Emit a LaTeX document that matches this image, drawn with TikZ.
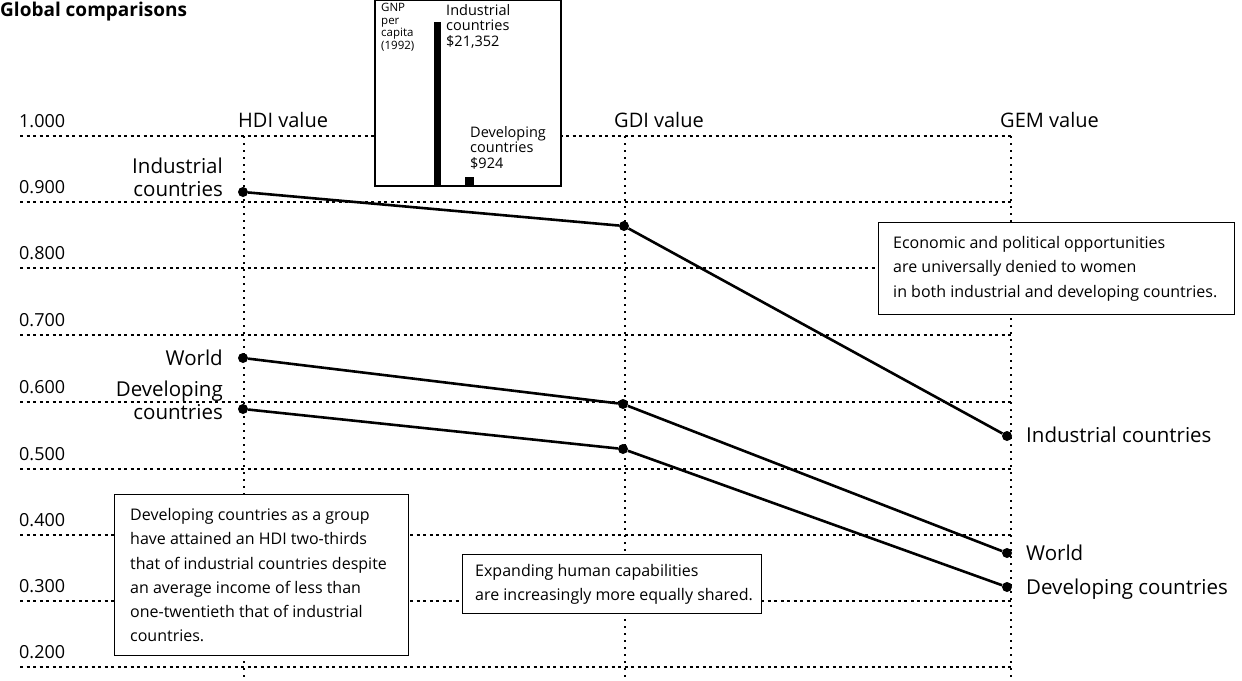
\documentclass[tikz,border=0pt]{standalone}
\usepackage{fontspec}
\setmainfont{Open Sans}
\begin{document}
\begin{tikzpicture}[x=1pt,y=-1pt,
  grid/.style={line width=1.1pt, dash pattern=on 3pt off 3.5pt},
  vgrid/.style={line width=1.1pt, dash pattern=on 2pt off 5pt},
  series/.style={line width=2.6pt},
  dot/.style={circle, fill, inner sep=0pt, minimum size=10pt},
  tick/.style={anchor=west, inner sep=0pt, font=\fontsize{18}{20}\selectfont},
  hdr/.style={anchor=base west, inner sep=0pt, font=\fontsize{20}{22}\selectfont},
  lab/.style={inner sep=0pt, font=\fontsize{20.5}{23}\selectfont},
  notebox/.style={draw, fill=white, line width=1.3pt, anchor=north west, inner sep=0pt},
  notetext/.style={anchor=west, align=left, inner sep=0pt, font=\fontsize{16}{24.2}\selectfont},
  small/.style={anchor=north west, align=left, inner sep=0pt}
]
\useasboundingbox (0,0) rectangle (1242,680);
\fill[white] (0,0) rectangle (1242,680);
% title
\node[anchor=north west, inner sep=0pt, font=\bfseries\fontsize{19}{23}\selectfont] (title) at (0,2) {Global comparisons};
% horizontal grid
\foreach \yy/\lbl in {136/1.000,202/0.900,268/0.800,335/0.700,402/0.600,469/0.500,535/0.400,601/0.300,667/0.200}{
  \draw[grid] (20,\yy) -- (1011,\yy);
  \node[tick] at (19,\yy-15) {\lbl};
}
% vertical grid
\draw[vgrid] (244,136) -- (244,680);
\draw[vgrid] (625,136) -- (625,680);
\draw[vgrid] (1011,136) -- (1011,680);
% headers
\node[hdr] (hdi) at (238,127) {HDI value};
\node[hdr] (gdi) at (614,127) {GDI value};
\node[hdr] (gem) at (1000,127) {GEM value};
% inset
\draw[fill=white, line width=1.3pt] (375,0) rectangle (561,186);
\fill (434,22) rectangle (441,186);
\fill (465,177) rectangle (474,186);
\node[small, font=\fontsize{11.5}{12.5}\selectfont] (gnp) at (381,3) {GNP\\per\\capita\\(1992)};
\node[small, font=\fontsize{14.5}{15.5}\selectfont] (indgnp) at (446,4) {Industrial\\countries\\\$21,352};
\node[small, font=\fontsize{14.5}{15.5}\selectfont] (devgnp) at (470,126) {Developing\\countries\\\$924};
% data points
\node[dot] (i1) at (243,192) {};
\node[dot] (i2) at (624,226) {};
\node[dot] (i3) at (1007,436) {};
\node[dot] (w1) at (243,358) {};
\node[dot] (w2) at (623,404) {};
\node[dot] (w3) at (1007,553) {};
\node[dot] (d1) at (243,409) {};
\node[dot] (d2) at (623,449) {};
\node[dot] (d3) at (1007,587) {};
\draw[series] (i1) -- (i2) -- (i3);
\draw[series] (w1) -- (w2) -- (w3);
\draw[series] (d1) -- (d2) -- (d3);
% labels
\node[lab, anchor=east, align=right] (li1) at (223,177) {Industrial\\countries};
\node[lab, anchor=east] (lw1) at (223,358) {World};
\node[lab, anchor=east, align=right] (ld1) at (223,400) {Developing\\countries};
\node[lab, anchor=west] (li3) at (1026,435) {Industrial countries};
\node[lab, anchor=west] (lw3) at (1026,553) {World};
\node[lab, anchor=west] (ld3) at (1026,589) {Developing countries};
% notes
\node[notebox, minimum width=294pt, minimum height=161pt] (n1) at (114,494) {};
\node[notetext] (t1) at ([xshift=16pt]n1.west)
 {Developing countries as a group\\have attained an HDI two-thirds\\that of industrial countries despite\\an average income of less than\\one-twentieth that of industrial\\countries.};
\node[notebox, minimum width=299pt, minimum height=59pt] (n2) at (462,554) {};
\node[notetext] (t2) at ([xshift=13pt]n2.west)
 {Expanding human capabilities\\are increasingly more equally shared.};
\node[notebox, minimum width=356pt, minimum height=92pt] (n3) at (878,222) {};
\node[notetext] (t3) at ([xshift=15pt]n3.west)
 {Economic and political opportunities\\are universally denied to women\\in both industrial and developing countries.};
\end{tikzpicture}
\end{document}
